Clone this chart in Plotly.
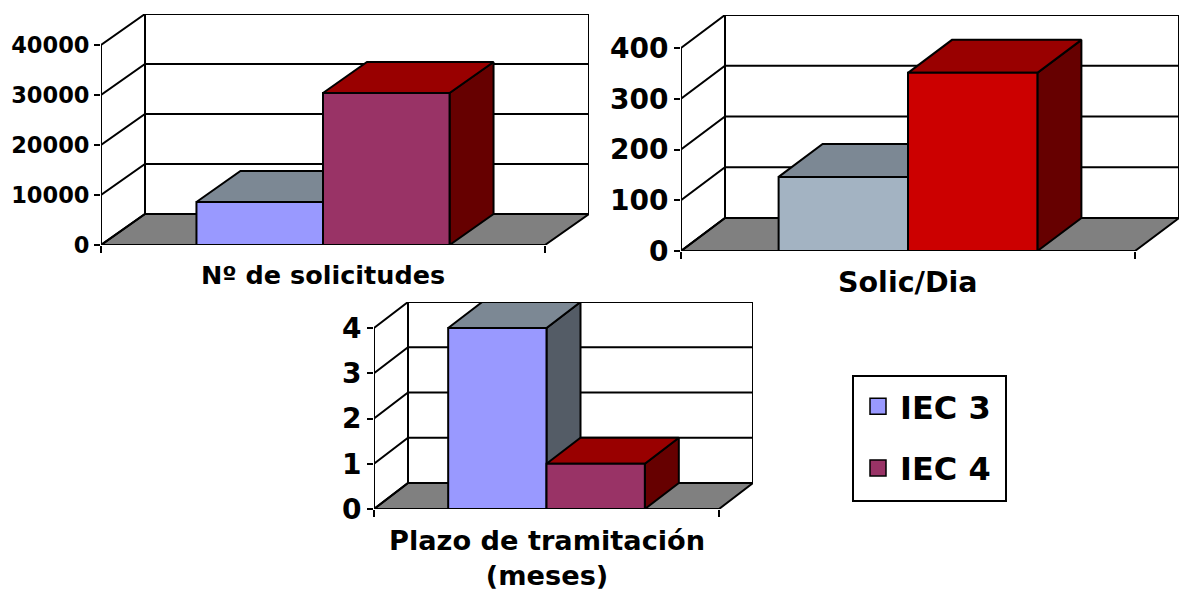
import plotly.graph_objects as go

# ---- data ----
categories = ["Nº de solicitudes", "Solic/Dia", "Plazo de tramitación<br>(meses)"]
series_names = ["IEC 3", "IEC 4"]
iec3_values = [8600, 146, 4]
iec4_values = [30400, 351, 1]
y_ticks = [[0, 10000, 20000, 30000, 40000],
           [0, 100, 200, 300, 400],
           [0, 1, 2, 3, 4]]

# ---- layout (pixels of the 1180x590 page) ----
W, H = 1180, 590
# front-left x, front-right x, front base y, front top y, depth x, depth y
panels = [(101, 545, 245, 45, 44, 31),
          (681, 1135, 251, 48, 44, 33),
          (374, 719, 509, 328, 34, 26)]
tick_sizes = [22.5, 28, 28]
label_sizes = [25.5, 28.5, 27.2]
label_shift = [13, 13, 14]

front3 = ["#9999FF", "#A3B3C2", "#9999FF"]
top3 = ["#7C8894"] * 3
side3 = ["#545C66"] * 3
front4 = ["#993366", "#CC0000", "#993366"]
top4 = ["#990000"] * 3
side4 = ["#660000"] * 3
FLOOR = "#808080"
LW = 2
BAR_W = 0.285

fig = go.Figure()


def poly(xs, ys, fill, ax, lw=LW):
    fig.add_trace(go.Scatter(x=xs, y=ys, mode="lines", fill="toself", fillcolor=fill,
                             line=dict(color="black", width=lw), cliponaxis=False,
                             hoverinfo="skip", showlegend=False, xaxis=ax[0], yaxis=ax[1]))


def line(xs, ys, ax, lw=LW):
    fig.add_trace(go.Scatter(x=xs, y=ys, mode="lines", line=dict(color="black", width=lw),
                             cliponaxis=False, hoverinfo="skip", showlegend=False,
                             xaxis=ax[0], yaxis=ax[1]))


def box(x0, x1, v, dx, dv, cf, ct, cs, ax):
    poly([x1, x1 + dx, x1 + dx, x1, x1], [0, dv, v + dv, v, 0], cs, ax)
    poly([x0, x0 + dx, x1 + dx, x1, x0], [v, v + dv, v + dv, v, v], ct, ax)
    poly([x0, x1, x1, x0, x0], [0, 0, v, v, 0], cf, ax)


for i, (xl, xr, yb, yt, dpx, dpy) in enumerate(panels):
    n = "" if i == 0 else str(i + 1)
    ax = ("x" + n, "y" + n)
    ymax = y_ticks[i][-1]
    dx = dpx / (xr - xl)
    dv = dpy * ymax / (yb - yt)
    # back wall grid and side wall
    poly([0, dx, 1 + dx, 1, 0], [0, dv, dv, 0, 0], FLOOR, ax)
    for t in y_ticks[i]:
        line([0, dx, 1 + dx], [t, t + dv, t + dv], ax)
    line([0, 0], [0, ymax], ax)
    line([dx, dx], [dv, ymax + dv], ax)
    line([1 + dx, 1 + dx], [dv, ymax + dv], ax)
    # bars
    box(0.5 - BAR_W, 0.5, iec3_values[i], dx, dv, front3[i], top3[i], side3[i], ax)
    box(0.5, 0.5 + BAR_W, iec4_values[i], dx, dv, front4[i], top4[i], side4[i], ax)

    fig.update_layout({
        "xaxis" + n: dict(domain=[xl / W, (xr + dpx) / W], range=[0, 1 + dx],
                          tickvals=[0, 1], showticklabels=False, ticks="outside",
                          ticklen=7, tickwidth=LW, tickcolor="black", showgrid=False,
                          zeroline=False, showline=False, anchor="y" + n),
        "yaxis" + n: dict(domain=[(H - yb) / H, (H - yt + dpy) / H], range=[0, ymax + dv],
                          tickvals=y_ticks[i], tickformat="d", ticks="outside", ticklen=6,
                          tickwidth=LW, tickcolor="black", showgrid=False, zeroline=False,
                          showline=False, anchor="x" + n,
                          tickfont=dict(family="DejaVu Sans", size=tick_sizes[i],
                                        color="black", weight="bold")),
    })
    fig.add_annotation(x=0.5, y=0, xref=ax[0], yref=ax[1], yanchor="top", yshift=-label_shift[i],
                       text=categories[i], showarrow=False,
                       font=dict(family="DejaVu Sans", size=label_sizes[i], color="black",
                                 weight="bold"))

# legend entries
for name, colour in zip(series_names, [front3[0], front4[0]]):
    fig.add_trace(go.Scatter(x=[None], y=[None], mode="markers", name=name, legendgroup=name,
                             marker=dict(symbol="square", size=16, color=colour,
                                         line=dict(color="black", width=1.5))))

# legend frame
fig.add_shape(type="rect", xref="paper", yref="paper",
              x0=853 / W, x1=1006 / W, y0=(H - 501) / H, y1=(H - 376) / H,
              line=dict(color="black", width=2), fillcolor="white", layer="above")

fig.update_layout(
    width=W, height=H, autosize=False,
    margin=dict(l=0, r=0, t=0, b=0, autoexpand=False),
    paper_bgcolor="white", plot_bgcolor="rgba(0,0,0,0)", hovermode=False,
    legend=dict(x=856 / W, y=(H - 379) / H, xanchor="left", yanchor="top",
                borderwidth=0, bgcolor="rgba(0,0,0,0)",
                tracegroupgap=17, traceorder="grouped", itemwidth=34,
                font=dict(family="DejaVu Sans", size=32, color="black", weight="bold")),
)

fig.write_html("out.html", config={"displayModeBar": False},
               post_script="document.body.style.margin='0';document.body.style.overflow='hidden';")
